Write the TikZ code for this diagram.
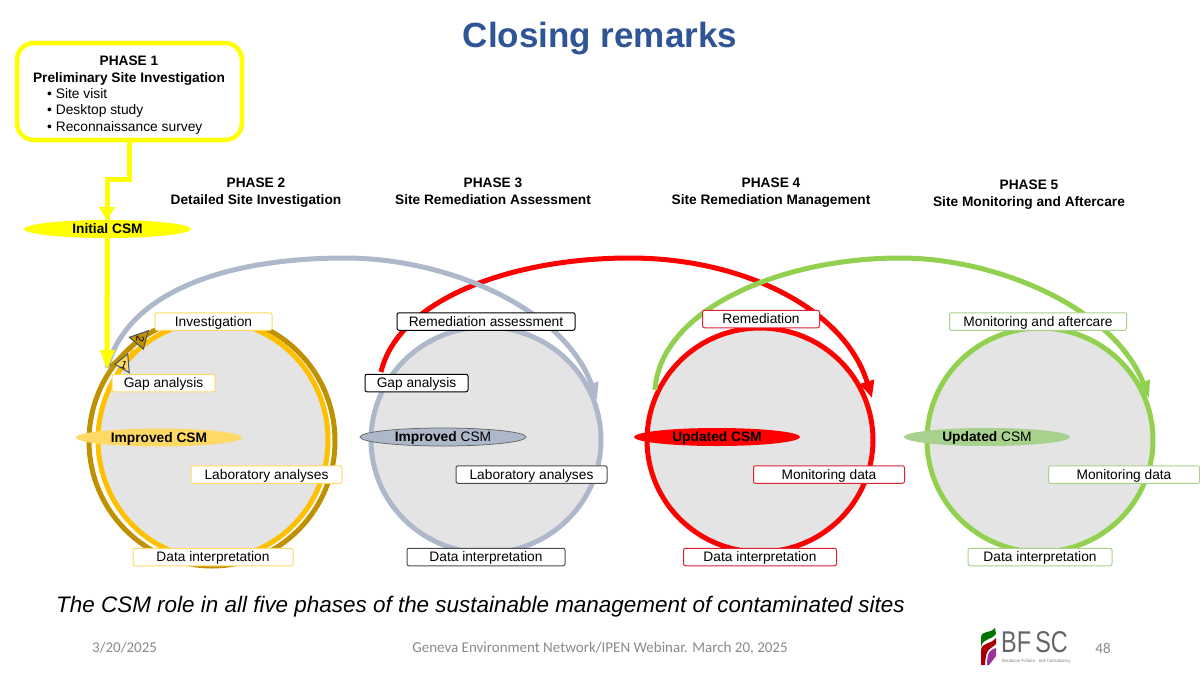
\documentclass[tikz,border=0pt]{standalone}
\usepackage{fontspec}
\usepackage{graphicx}
\setmainfont{Liberation Sans}
\newfontfamily\footfont{Carlito}
\usetikzlibrary{arrows.meta,calc,shapes.geometric}
\definecolor{ttl}{HTML}{2F5597}
\definecolor{ylw}{HTML}{FFFF00}
\definecolor{gold}{HTML}{FFC000}
\definecolor{lgold}{HTML}{FFD966}
\definecolor{brn}{HTML}{BF9000}
\definecolor{slate}{HTML}{ADB9CA}
\definecolor{rd}{HTML}{FF0000}
\definecolor{crim}{HTML}{DD2233}
\definecolor{grn}{HTML}{92D050}
\definecolor{lgrn}{HTML}{A9D18E}
\definecolor{disc}{HTML}{E4E4E4}
\definecolor{foot}{HTML}{8A8A8A}
\definecolor{mini}{HTML}{44546A}
\tikzset{
  tag/.style={draw=#1,fill=white,rounded corners=2pt,line width=1pt,inner sep=0pt,minimum height=17.5pt,text height=10pt,text depth=1pt,font=\fontsize{13.75}{15}\selectfont},
  phase/.style={align=center,font=\fontsize{13.7}{17}\selectfont\bfseries},
  csm/.style={ellipse,minimum width=166pt,minimum height=18pt,inner sep=0pt,text height=10pt,text depth=1pt,font=\fontsize{13.75}{15}\selectfont},
  disk/.style={draw=#1,fill=disc,line width=5pt},
  sweep/.style={draw=#1,line width=5pt,-{Triangle[length=17pt,width=14pt]}},
  minitri/.style={draw=mini,line width=1pt,fill=#1},
  feed/.style={draw=ylw,line width=5pt},
}
\begin{document}
\begin{tikzpicture}[x=1pt,y=-1pt]
\useasboundingbox (0,0) rectangle (1200,675);
\fill[white] (0,0) rectangle (1200,675);

\node (title) at (600,39) {\fontsize{35}{38}\selectfont\bfseries\color{ttl}Closing remarks};

% Phase 1
\node[draw=ylw,line width=4.5pt,rounded corners=17pt,fill=white,minimum width=225pt,minimum height=97pt,inner sep=0pt] (p1) at (129.5,91.5) {};
\node[phase,anchor=north] (p1t) at (129,52.5) {PHASE 1\\Preliminary Site Investigation};
\node[anchor=north west,align=left,inner sep=0pt,font=\fontsize{13.8}{16.7}\selectfont] (p1l) at (47,88) {• Site visit\\• Desktop study\\• Reconnaissance survey};

% Phase headings
\node[phase] (p2) at (256,192.5) {PHASE 2\\Detailed Site Investigation};
\node[phase] (p3) at (493,191.5) {PHASE 3\\Site Remediation Assessment};
\node[phase] (p4) at (771,192.5) {PHASE 4\\Site Remediation Management};
\node[phase] (p5) at (1029,195) {PHASE 5\\Site Monitoring and Aftercare};

% Disks
\draw[brn,fill=white,line width=5pt] (212,441) ellipse [x radius=123,y radius=125];
\draw[disk=gold] (213,440) ellipse [x radius=115,y radius=119];
\draw[disk=slate] (486,440) ellipse [x radius=115,y radius=113];
\draw[disk=rd] (760,440) ellipse [x radius=113,y radius=112];
\draw[disk=grn] (1040,440) ellipse [x radius=113,y radius=112];

% Sweeping arcs
\coordinate (entry) at (107,368);
\coordinate (g2) at (597,400);
\coordinate (r1) at (381,372);
\coordinate (r2) at (872,398);
\coordinate (n1) at (655,390);
\coordinate (n2) at (1149,398);
\draw[sweep=rd] (r1) .. controls (398,300) and (510,258) .. (630,258) .. controls (745,258) and (845,310) .. (r2);
\draw[sweep=grn] (n1) .. controls (660,310) and (780,258) .. (900,258) .. controls (1000,258) and (1115,310) .. (n2);
\draw[sweep=slate] (entry) .. controls (130,285) and (240,258) .. (345,258) .. controls (450,258) and (565,310) .. (g2);

% Cycle arrows
\draw[brn,line width=3pt] (110,366) -- (140,340);
\draw[gold,line width=3pt] (118,370) -- (134,350);
\path[minitri=lgold] (127.7,354) -- (115,364.3) -- (129.3,372.7) -- cycle;
\path[minitri=brn] (148.3,330.7) -- (129.3,337.3) -- (143.3,349) -- cycle;
\node[rotate=-20,inner sep=0pt,font=\fontsize{11}{11}\selectfont] (n1t) at (124,365) {1};
\node[rotate=-100,inner sep=0pt,font=\fontsize{11}{11}\selectfont] (n2t) at (140,339) {2};

% Phase 1 feed
\node[csm,fill=ylw,minimum width=167pt] (init) at (107.5,229) {\bfseries Initial CSM};
\coordinate (bend1) at (129.5,179);
\coordinate (bend2) at (107,179);
\draw[feed] (p1.south -| bend1) -- (bend1) -- (bend2) -- (bend2 |- init.north);
\fill[ylw] (99,207) -- (115,207) -- (107,220) -- cycle;
\draw[feed] (init.south) -- (107,352);
\fill[ylw] (100,350) -- (115,350) -- (107,369) -- cycle;

% Labels, circle 1
\node[tag=lgold,minimum width=117pt] (a1) at (213.5,321.5) {Investigation};
\node[tag=lgold,minimum width=103pt] (a2) at (163.5,383) {Gap analysis};
\node[tag=lgold,minimum width=151pt] (a3) at (266.5,474.5) {Laboratory analyses};
\node[tag=lgold,minimum width=160pt] (a4) at (213,557) {Data interpretation};
\node[csm,fill=lgold] (a5) at (159,437.5) {\bfseries Improved CSM};

% circle 2
\node[tag=black,minimum width=178pt] (b1) at (486,321.5) {Remediation assessment};
\node[tag=black,minimum width=103pt] (b2) at (416.5,383) {Gap analysis};
\node[tag=black!70,minimum width=151pt] (b3) at (531.5,474.5) {Laboratory analyses};
\node[tag=black!70,minimum width=158pt] (b4) at (486,557) {Data interpretation};
\node[csm,fill=slate,draw=black!60,line width=.75pt] (b5) at (443,437) {\textbf{Improved} CSM};

% circle 3
\node[tag=crim,minimum width=117pt] (c1) at (761,319) {Remediation};
\node[tag=crim,minimum width=151pt] (c3) at (829,474.5) {Monitoring data};
\node[tag=crim,minimum width=153pt] (c4) at (760,557) {Data interpretation};
\node[csm,fill=rd] (c5) at (717,437) {\bfseries Updated CSM};

% circle 4
\node[tag=lgrn,minimum width=177pt] (d1) at (1038,321.5) {Monitoring and aftercare};
\node[tag=lgrn,minimum width=151pt] (d3) at (1124,474.5) {Monitoring data};
\node[tag=lgrn,minimum width=144pt] (d4) at (1040,557) {Data interpretation};
\node[csm,fill=lgrn] (d5) at (987,437) {\textbf{Updated} CSM};

% Caption and footer
\node[anchor=west,inner sep=0pt,font=\fontsize{22.45}{24}\selectfont\itshape] (cap) at (56,607) {The CSM role in all five phases of the sustainable management of contaminated sites};
\node[anchor=west,inner sep=0pt,text=foot,font=\footfont\fontsize{15}{16}\selectfont] (fd) at (92,648) {3/20/2025};
\node[inner sep=0pt,text=foot,font=\footfont\fontsize{15}{16}\selectfont] (fc) at (600,648) {Geneva Environment Network/IPEN Webinar. March 20, 2025};
\node[inner sep=0pt,text=foot,font=\footfont\fontsize{15}{16}\selectfont] (fn) at (1103,648) {48};

% Logo
\fill[green!45!black] (981,637) .. controls (982,630) and (990,634) .. (995,628) -- (996,634) .. controls (990,641) and (983,638) .. (981,647) -- cycle;
\fill[red!65!black] (981,650) .. controls (982,642) and (990,645) .. (996,638) -- (996,644) .. controls (990,650) and (986,647) .. (985,665) -- (981,665) -- cycle;
\fill[violet!80!white] (987,665) .. controls (987,652) and (990,650) .. (996,648) -- (996,656) -- (989,665) -- cycle;
\node[anchor=west,inner sep=0pt,text=black!60,font=\fontsize{30}{30}\selectfont] (lg) at (1001,642.5) {\scalebox{.78}[1]{BF}};
\node[anchor=east,inner sep=0pt,text=black!60,font=\fontsize{30}{30}\selectfont] (lg1) at (1068,642.5) {\scalebox{.78}[1]{SC}};
\node[anchor=west,inner sep=0pt,text=black!50,font=\fontsize{4.5}{4.5}\selectfont] (lg2) at (1002,661) {\scalebox{.95}[1]{Boubacar Fofana \ \ Soil Consultancy}};
\end{tikzpicture}
\end{document}
